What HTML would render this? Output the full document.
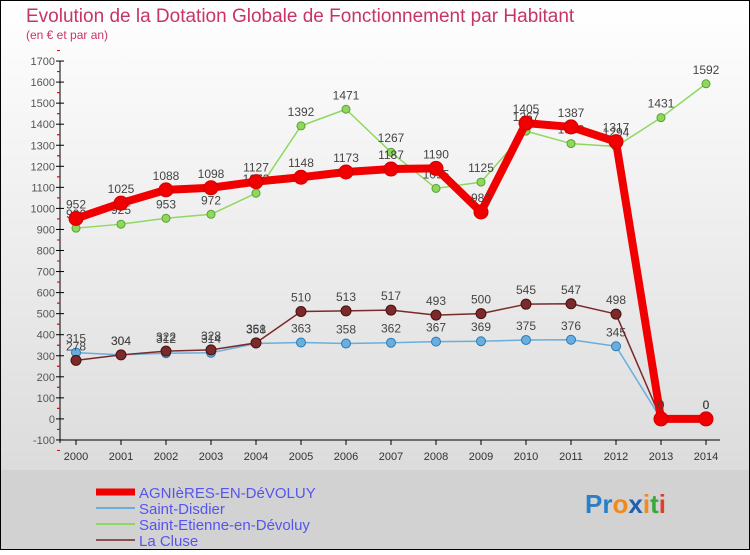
<!DOCTYPE html>
<html><head><meta charset="utf-8"><style>
body{margin:0;width:750px;height:550px;overflow:hidden;font-family:"Liberation Sans",sans-serif}
</style></head><body>
<svg id="c" width="750" height="550" xmlns="http://www.w3.org/2000/svg">
<defs><linearGradient id="bg" x1="0" y1="0" x2="0" y2="1"><stop offset="0" stop-color="#ffffff"/><stop offset="1" stop-color="#dcdcdc"/></linearGradient></defs>
<rect x="0" y="0" width="750" height="470" fill="url(#bg)"/>
<rect x="0" y="470" width="750" height="80" fill="#d2d2d2"/>
<rect x="0.5" y="0.5" width="749" height="549" fill="none" stroke="#000"/>
<text x="26" y="22" font-size="19" fill="#c8336a">Evolution de la Dotation Globale de Fonctionnement par Habitant</text>
<text x="26" y="39" font-size="12" fill="#c8336a">(en € et par an)</text>
<g id="axes"></g><g id="series"></g><g id="legend"></g>
<text x="585" y="513" font-size="26" font-weight="bold"><tspan fill="#2a7fc6">Pr</tspan><tspan fill="#f08a1c">o</tspan><tspan fill="#1f5fb0">x</tspan><tspan fill="#f08a1c">i</tspan><tspan fill="#3aa83a">t</tspan><tspan fill="#e0402a">i</tspan></text>
</svg>
<script>
const years=[2000,2001,2002,2003,2004,2005,2006,2007,2008,2009,2010,2011,2012,2013,2014];
const yTicks=[-100,0,100,200,300,400,500,600,700,800,900,1000,1100,1200,1300,1400,1500,1600,1700];
const agnieres=[952,1025,1088,1098,1127,1148,1173,1187,1190,983,1405,1387,1317,0,0];
const saintDisdier=[315,304,312,314,358,363,358,362,367,369,375,376,345,0,0];
const saintEtienne=[906,925,953,972,1072,1392,1471,1267,1095,1125,1367,1308,1294,1431,1592];
const laCluse=[278,304,322,328,361,510,513,517,493,500,545,547,498,0,0];
const NS="http://www.w3.org/2000/svg";
const X=y=>76+(y-2000)*45;
const Y=v=>418.9-v*0.2105;
function mk(tag,attrs,parent,txt){const e=document.createElementNS(NS,tag);for(const k in attrs)e.setAttribute(k,attrs[k]);if(txt!==undefined)e.textContent=txt;parent.appendChild(e);return e;}
const ax=document.getElementById('axes');
let l=mk('line',{x1:60,y1:Y(1700),x2:60,y2:Y(-100)+3,stroke:'#000'},ax);


l=mk('line',{x1:60,y1:Y(-100),x2:720,y2:Y(-100),stroke:'#000'},ax);


yTicks.forEach(v=>{
  mk('line',{x1:56,y1:Y(v),x2:64,y2:Y(v),stroke:'#000'},ax);
  mk('line',{x1:57,y1:Y(v)-10.5,x2:60,y2:Y(v)-10.5,stroke:'#e00'},ax);
  mk('line',{x1:57,y1:Y(v)+10.5,x2:60,y2:Y(v)+10.5,stroke:'#e00'},ax);
  const t=mk('text',{x:55,y:Y(v)+4,'font-size':11,'text-anchor':'end',fill:'#555'},ax,String(v));
  
  
});
years.forEach(yr=>{
  mk('line',{x1:X(yr),y1:Y(-100),x2:X(yr),y2:Y(-100)+5,stroke:'#000'},ax);
  const t=mk('text',{x:X(yr),y:Y(-100)+20,'font-size':11,'text-anchor':'middle',fill:'#333'},ax,String(yr));
  
  
});
const sg=document.getElementById('series');
function drawSeries(vals,color,w,r,name,dark){
  const g=mk('g',{},sg);
  
  
  mk('polyline',{points:vals.map((v,i)=>X(years[i])+','+Y(v)).join(' '),fill:'none',stroke:color,'stroke-width':w,'stroke-linejoin':'round'},g);
  vals.forEach((v,i)=>{
    const c=mk('circle',{cx:X(years[i]),cy:Y(v),r:r,fill:color,stroke:dark,'stroke-width':1},g);
    
    
    mk('text',{x:X(years[i]),y:Y(v)-10,'font-size':12,'text-anchor':'middle',fill:'#444'},g,String(v));
  });
}
drawSeries(saintEtienne,'#8fd860',1.5,4,'saint-etienne','#5aa030');
drawSeries(saintDisdier,'#6aaedc',1.5,4.5,'saint-disdier','#2a7ab8');
drawSeries(laCluse,'#7a2a2a',1.5,5,'la-cluse','#4a1010');
drawSeries(agnieres,'#f00000',8,7,'agnieres','#d00000');
const lg=document.getElementById('legend');
const items=[['AGNIèRES-EN-DéVOLUY','#f00000',7],['Saint-Disdier','#6aaedc',2],['Saint-Etienne-en-Dévoluy','#8fd860',2],['La Cluse','#8a5050',2]];
items.forEach((it,i)=>{
  const g=mk('g',{},lg);
  
  
  const y=492+i*16;
  mk('line',{x1:96,y1:y,x2:135,y2:y,stroke:it[1],'stroke-width':it[2]},g);
  mk('text',{x:139,y:y+6,'font-size':15,fill:'#5555ee'},g,it[0]);
});
</script>
</body></html>
